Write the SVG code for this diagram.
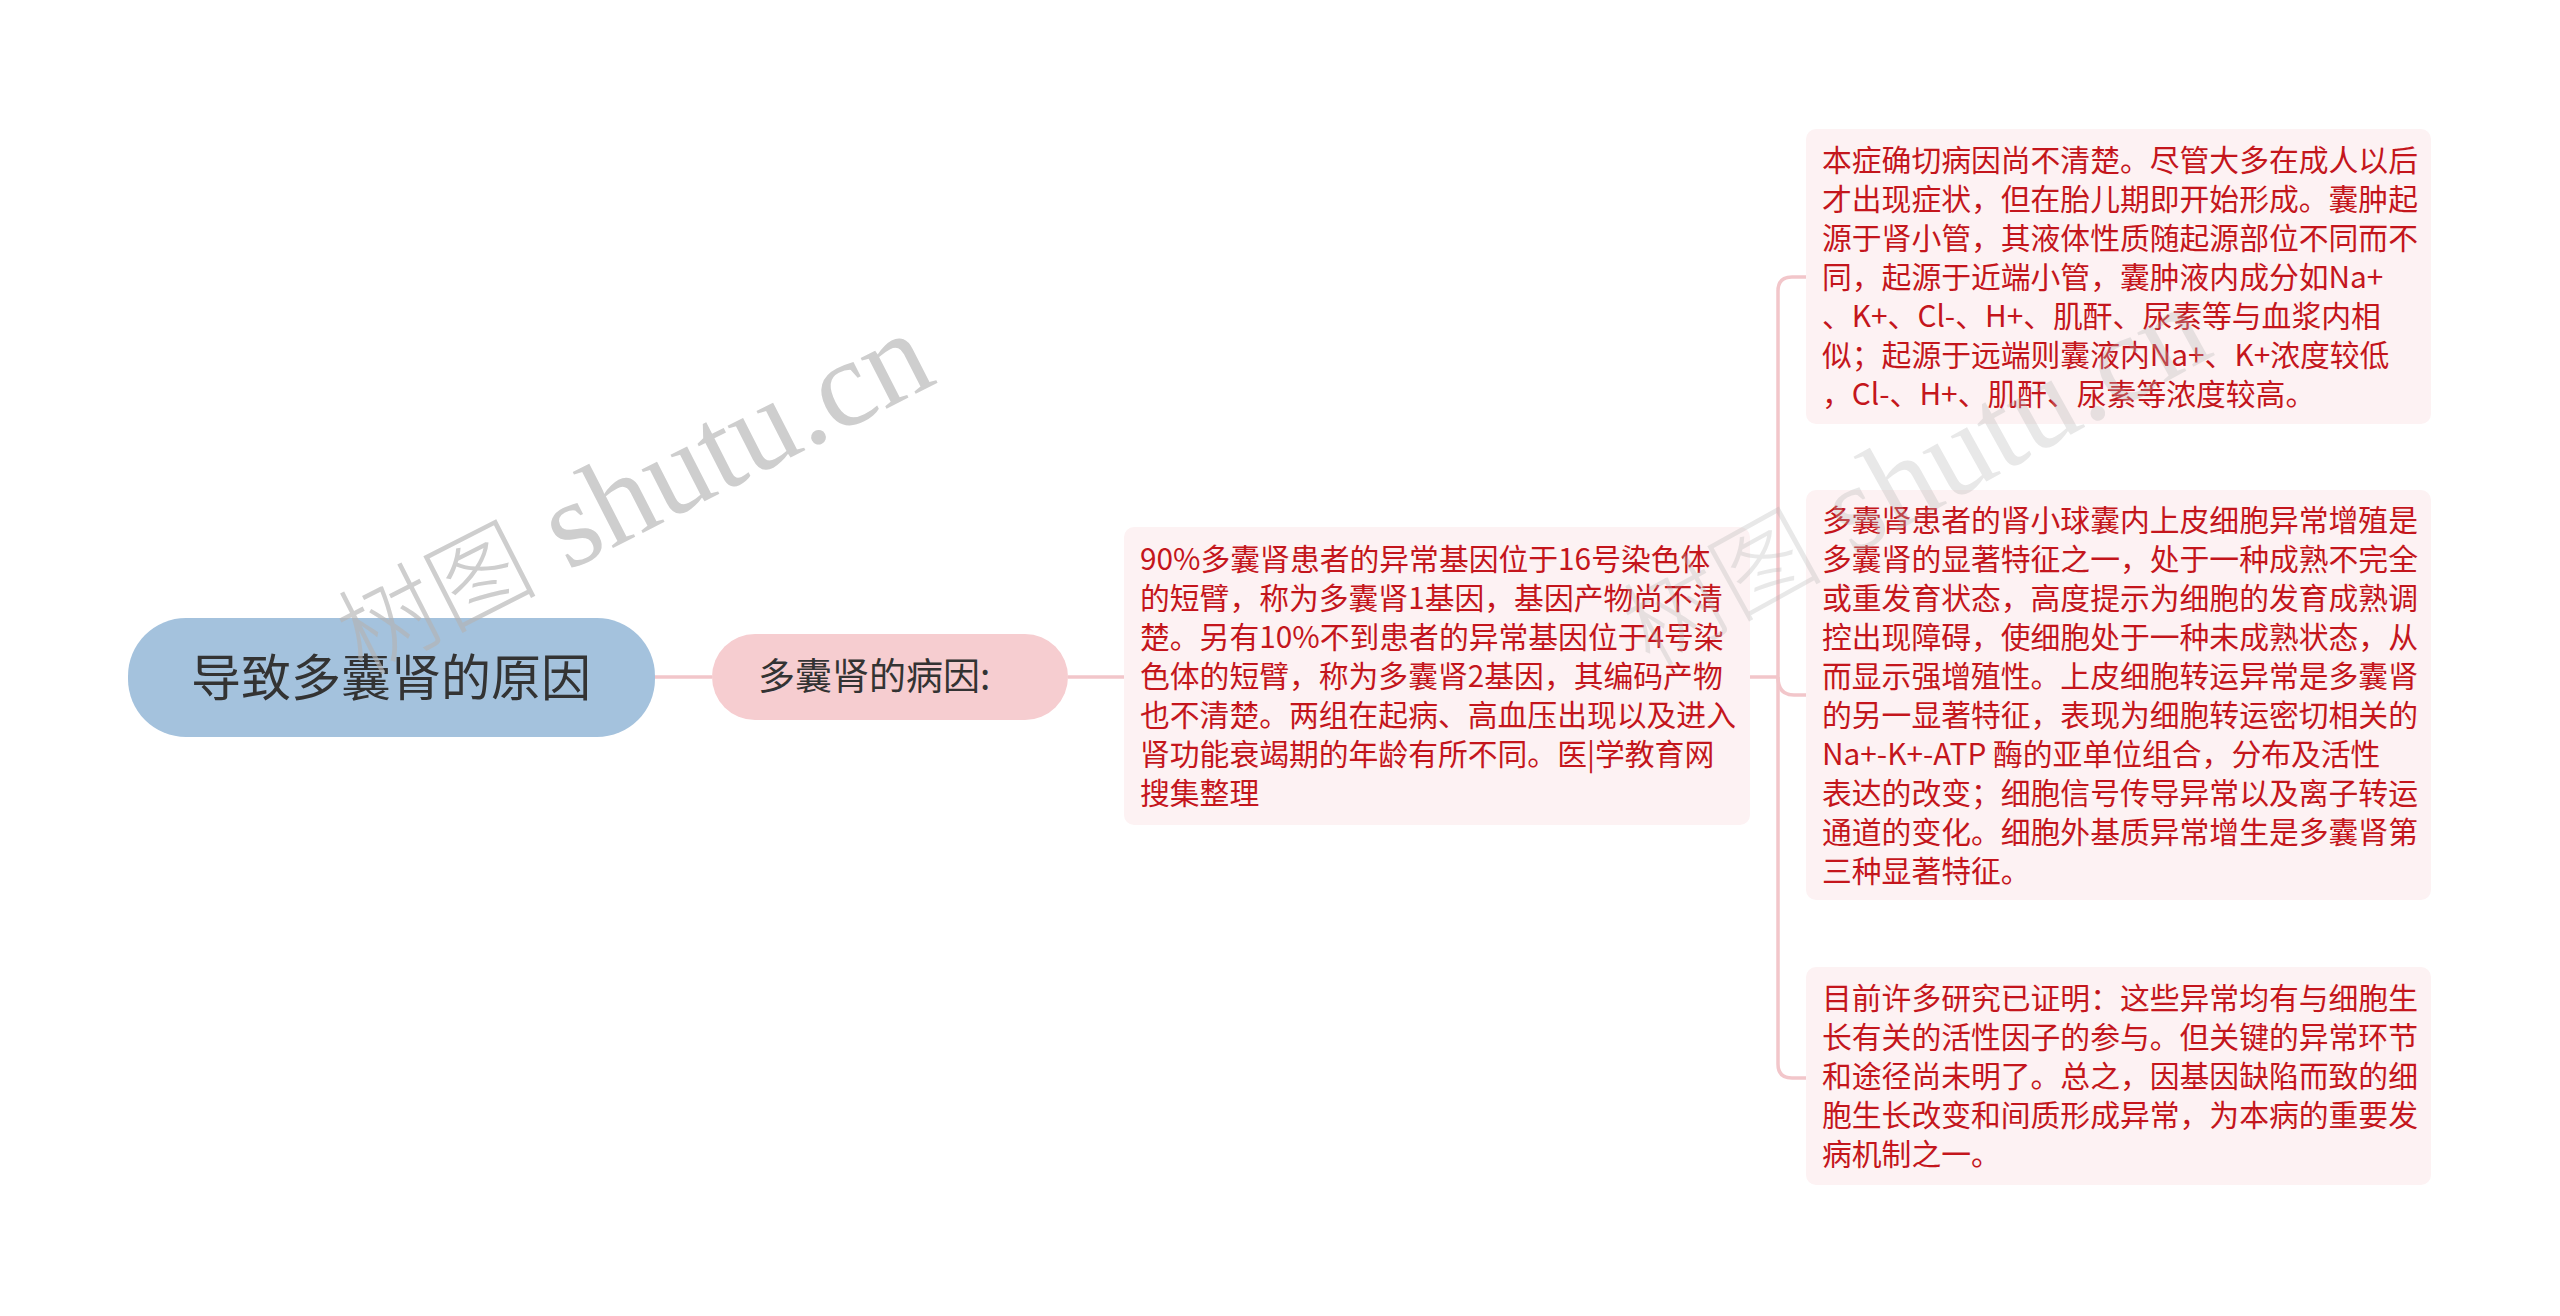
<svg xmlns="http://www.w3.org/2000/svg" width="2560" height="1316" viewBox="0 0 2560 1316">
<style>
.conn{fill:none;stroke:#f2c6ca;stroke-width:3.5}
.box{fill:#fdf2f3}
.bt{font-family:"Noto Sans CJK SC","Noto Sans",sans-serif;font-size:29.8px;fill:#c4161c}
.wm{font-family:"Liberation Serif","Noto Sans CJK SC",serif;font-size:124px;fill:#b4b4b4}
.wmc{font-family:"Noto Sans CJK SC",sans-serif;font-size:100px;font-weight:300}
</style>
<rect width="2560" height="1316" fill="#ffffff"/>
<g id="connectors">
<path class="conn" d="M655,677 L712,677"/>
<path class="conn" d="M1068,677 L1124,677"/>
<path class="conn" d="M1750,677 L1778,677"/>
<path class="conn" d="M1806,277 L1792,277 Q1778,277 1778,291 L1778,1064 Q1778,1078 1792,1078 L1806,1078"/>
<path class="conn" d="M1778,677 Q1778,695 1794,695 L1806,695"/>
</g>
<g id="root">
<rect x="128" y="618" width="527" height="119" rx="58" ry="58" fill="#a4c2dd"/>
<text x="391" y="696" text-anchor="middle" font-family="'Noto Sans CJK SC','Noto Sans',sans-serif" font-size="50" fill="#333333">导致多囊肾的原因</text>
</g>
<g id="sub">
<rect x="712" y="634" width="356" height="86" rx="43" ry="43" fill="#f6cdd0"/>
<text x="758" y="690" font-family="'Noto Sans CJK SC','Noto Sans',sans-serif" font-size="37" fill="#333333">多囊肾的病因:</text>
</g>
<g id="node1">
<rect class="box" x="1124" y="527" width="626" height="298" rx="10"/>
<text class="bt" x="1140" y="570">90%多囊肾患者的异常基因位于16号染色体</text>
<text class="bt" x="1140" y="609">的短臂，称为多囊肾1基因，基因产物尚不清</text>
<text class="bt" x="1140" y="648">楚。另有10%不到患者的异常基因位于4号染</text>
<text class="bt" x="1140" y="687">色体的短臂，称为多囊肾2基因，其编码产物</text>
<text class="bt" x="1140" y="726">也不清楚。两组在起病、高血压出现以及进入</text>
<text class="bt" x="1140" y="765">肾功能衰竭期的年龄有所不同。医|学教育网</text>
<text class="bt" x="1140" y="804">搜集整理</text>
</g>
<g id="node2">
<rect class="box" x="1806" y="129" width="625" height="295" rx="10"/>
<text class="bt" x="1822" y="171">本症确切病因尚不清楚。尽管大多在成人以后</text>
<text class="bt" x="1822" y="210">才出现症状，但在胎儿期即开始形成。囊肿起</text>
<text class="bt" x="1822" y="249">源于肾小管，其液体性质随起源部位不同而不</text>
<text class="bt" x="1822" y="288">同，起源于近端小管，囊肿液内成分如Na+</text>
<text class="bt" x="1822" y="327">、K+、Cl-、H+、肌酐、尿素等与血浆内相</text>
<text class="bt" x="1822" y="366">似；起源于远端则囊液内Na+、K+浓度较低</text>
<text class="bt" x="1822" y="405">，Cl-、H+、肌酐、尿素等浓度较高。</text>
</g>
<g id="node3">
<rect class="box" x="1806" y="490" width="625" height="410" rx="10"/>
<text class="bt" x="1822" y="531">多囊肾患者的肾小球囊内上皮细胞异常增殖是</text>
<text class="bt" x="1822" y="570">多囊肾的显著特征之一，处于一种成熟不完全</text>
<text class="bt" x="1822" y="609">或重发育状态，高度提示为细胞的发育成熟调</text>
<text class="bt" x="1822" y="648">控出现障碍，使细胞处于一种未成熟状态，从</text>
<text class="bt" x="1822" y="687">而显示强增殖性。上皮细胞转运异常是多囊肾</text>
<text class="bt" x="1822" y="726">的另一显著特征，表现为细胞转运密切相关的</text>
<text class="bt" x="1822" y="765">Na+-K+-ATP 酶的亚单位组合，分布及活性</text>
<text class="bt" x="1822" y="804">表达的改变；细胞信号传导异常以及离子转运</text>
<text class="bt" x="1822" y="843">通道的变化。细胞外基质异常增生是多囊肾第</text>
<text class="bt" x="1822" y="882">三种显著特征。</text>
</g>
<g id="node4">
<rect class="box" x="1806" y="967" width="625" height="218" rx="10"/>
<text class="bt" x="1822" y="1009">目前许多研究已证明：这些异常均有与细胞生</text>
<text class="bt" x="1822" y="1048">长有关的活性因子的参与。但关键的异常环节</text>
<text class="bt" x="1822" y="1087">和途径尚未明了。总之，因基因缺陷而致的细</text>
<text class="bt" x="1822" y="1126">胞生长改变和间质形成异常，为本病的重要发</text>
<text class="bt" x="1822" y="1165">病机制之一。</text>
</g>
<g id="watermark">
<text class="wm" x="0" y="0" opacity="0.65" transform="translate(362,676) rotate(-27)"><tspan class="wmc">树图</tspan> shutu.cn</text>
<text class="wm" x="0" y="0" opacity="0.3" transform="translate(1650,668) rotate(-29)"><tspan class="wmc">树图</tspan> shutu.cn</text>
</g>
</svg>
